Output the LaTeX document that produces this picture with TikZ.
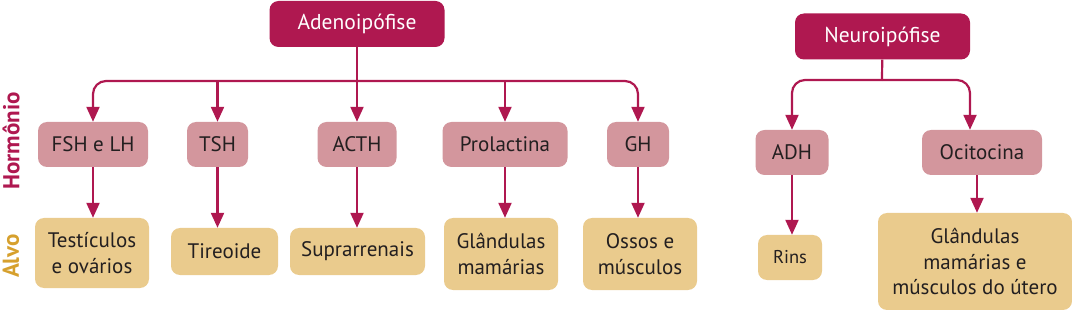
\documentclass[tikz,border=0pt]{standalone}
\usepackage{fontspec}
\setmainfont{PT Sans}
\usetikzlibrary{arrows.meta}

\definecolor{hipofise}{HTML}{AF1850}
\definecolor{rosa}{HTML}{D3969D}
\definecolor{areia}{HTML}{EACB8D}
\definecolor{ouro}{HTML}{D6A02D}
\definecolor{texto}{HTML}{231F20}

\tikzset{
  glandula/.style={fill=hipofise,text=white,rounded corners=9pt,inner sep=0pt,
    minimum width=175pt,minimum height=46pt,font=\fontsize{21.5}{25}\selectfont},
  hormonio/.style={fill=rosa,text=texto,rounded corners=9pt,inner sep=0pt,
    minimum height=45pt,font=\fontsize{21}{25}\selectfont},
  alvo/.style={fill=areia,text=texto,rounded corners=9pt,inner sep=0pt,align=center,
    font=\fontsize{21}{25.5}\selectfont},
  haste/.style={draw=hipofise,line width=2.2pt},
  seta/.style={haste,-{Triangle[width=13pt,length=15pt]}},
  rotulo/.style={rotate=90,font=\bfseries\fontsize{23}{23}\selectfont}
}

\begin{document}
\begin{tikzpicture}[x=1pt,y=-1pt]
\useasboundingbox (0,0) rectangle (1072,310);

% glandulas
\node[glandula] (adeno) at (357,24) {Adenoipófise};
\node[glandula] (neuro) at (882.5,36.5) {Neuroipófise};

% hormonios
\node[hormonio,minimum width=110pt] (fsh) at (93,144.5) {FSH e LH};
\node[hormonio,minimum width=61pt] (tsh) at (217.5,144.5) {TSH};
\node[hormonio,minimum width=79pt] (acth) at (357,144.5) {ACTH};
\node[hormonio,minimum width=125pt] (prl) at (505,144.5) {Prolactina};
\node[hormonio,minimum width=62pt] (gh) at (638,144.5) {GH};
\node[hormonio,minimum width=73pt] (adh) at (792,152.5) {ADH};
\node[hormonio,minimum width=120pt] (oci) at (982,152.5) {Ocitocina};

% alvos
\node[alvo,minimum width=114pt,minimum height=70pt] (testic) at (92,253) {Testículos\\e ovários};
\node[alvo,minimum width=107pt,minimum height=47pt] (tireo) at (224.5,251.5) {Tireoide};
\node[alvo,minimum width=135pt,minimum height=47pt] (supra) at (357.5,251.5) {Suprarrenais};
\node[alvo,minimum width=114pt,minimum height=72pt] (mama) at (501,254) {Glândulas\\mamárias};
\node[alvo,minimum width=114pt,minimum height=72pt] (ossos) at (640,254) {Ossos e\\músculos};
\node[alvo,minimum width=64pt,minimum height=45pt,font=\fontsize{18.5}{22}\selectfont] (rins) at (790,257.5) {Rins};
\node[alvo,minimum width=194pt,minimum height=97pt] (utero) at (975,261.5) {Glândulas\\mamárias e\\músculos do útero};

% rotulos das linhas
\node[rotulo,text=hipofise] (lblhorm) at (11,141) {Hormônio};
\node[rotulo,text=ouro] (lblalvo) at (11,256) {Alvo};

% adenoipofise
\coordinate (abar) at (357,81);
\draw[haste] (adeno) -- (abar);
\draw[seta,rounded corners=13pt] (abar) -| (fsh);
\draw[seta,rounded corners=13pt] (abar) -| (gh);
\draw[seta] (tsh |- abar) -- (tsh);
\draw[seta] (abar) -- (acth);
\draw[seta] (prl |- abar) -- (prl);

% neuroipofise
\coordinate (nbar) at (882,80);
\draw[haste] (neuro) -- (nbar);
\draw[seta,rounded corners=13pt] (nbar) -| (adh);
\draw[seta,rounded corners=13pt] (nbar) -| ([xshift=-12pt]oci.north);

% hormonio -> alvo
\draw[seta] (fsh) -- (fsh |- testic.north);
\draw[seta] (tsh) -- (tsh |- tireo.north);
\draw[seta] (acth) -- (acth |- supra.north);
\draw[seta] (prl) -- (prl |- mama.north);
\draw[seta] (gh) -- (gh |- ossos.north);
\draw[seta] (adh) -- (adh |- rins.north);
\draw[seta] ([xshift=-5pt]oci.south) -- ([xshift=-5pt]oci.south |- utero.north);
\end{tikzpicture}
\end{document}
